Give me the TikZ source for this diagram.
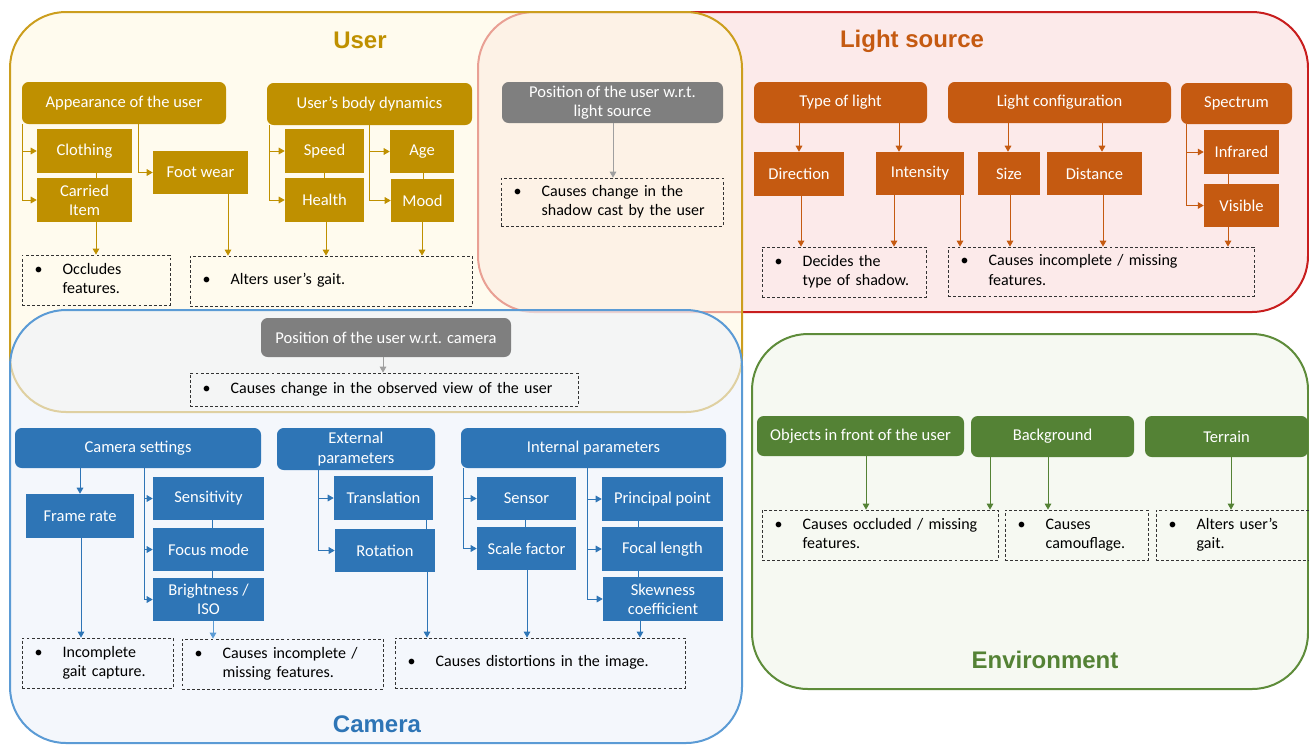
\documentclass[tikz,border=0pt]{standalone}
\usepackage{fontspec}
\setmainfont{Carlito}
\newfontfamily\headfont{Liberation Sans}
\usetikzlibrary{arrows.meta}

\definecolor{ugold}{HTML}{BF9000}
\definecolor{uline}{HTML}{CC9E1E}
\definecolor{ufill}{RGB}{255,248,227}
\definecolor{lorange}{HTML}{C55A11}
\definecolor{lline}{HTML}{C81E1E}
\definecolor{lfill}{RGB}{250,220,220}
\definecolor{cblue}{HTML}{2E75B6}
\definecolor{cline}{HTML}{5B9BD5}
\definecolor{cfill}{RGB}{237,242,250}
\definecolor{egreen}{HTML}{548235}
\definecolor{eline}{HTML}{5E8C3A}
\definecolor{efill}{RGB}{240,245,233}
\definecolor{pgray}{HTML}{7F7F7F}

\newcommand{\bul}[1]{\makebox[21pt][l]{\textbullet}\begin{tabular}[t]{@{}l@{}}#1\end{tabular}}

\begin{document}
\begin{tikzpicture}[x=0.75pt,y=-0.75pt,
    font=\fontsize{12.4}{14.5}\selectfont,
    head/.style={rounded corners=5pt,fill=#1,text=white,align=center,inner sep=1pt},
    item/.style={fill=#1,text=white,align=center,inner sep=1pt},
    wh/.style 2 args={minimum width=#1*0.75pt,minimum height=#2*0.75pt},
    note/.style 2 args={draw=black!80,dash pattern=on 2.2pt off 1.6pt,line width=0.6pt,
      font=\fontsize{12}{14.5}\selectfont,
      minimum height=#2*0.75pt,text width=#1*0.75pt-19pt,inner xsep=9.5pt,align=left},
    arr/.style={draw=#1,line width=0.75pt,-{Triangle[length=4.5pt,width=5pt]}},
    ln/.style={draw=#1,line width=0.75pt},
    area/.style 2 args={rounded corners=42pt,fill=#2,fill opacity=0.6,draw=#1,line width=1.5pt},
    title/.style={font=\headfont\bfseries\fontsize{18}{22}\selectfont,text=#1}]

  \useasboundingbox (0,0) rectangle (1309,744);

  % the four areas
  \path[area={lline}{lfill}] (478,12) rectangle (1308,312);
  \path[area={uline}{ufill}] (10,12) rectangle (742,412);
  \path[area={cline}{cfill}] (10,310) rectangle (742,743);
  \path[area={eline}{efill}] (752,334) rectangle (1308,689);

  \node[title=ugold] (tuser) at (360,40) {User};
  \node[title=lorange] (tlight) at (912,41) {Light source};
  \node[title=cblue] (tcam) at (377,724) {Camera};
  \node[title=egreen] (tenv) at (1045,660) {Environment};

  % user
  \node[head=ugold,wh={204}{42}] (appear) at (124,103) {Appearance of the user};
  \node[head=ugold,wh={205}{42}] (bodydyn) at (369.5,104) {User’s body dynamics};
  \node[item=ugold,wh={95}{44}] (clothing) at (84.5,151) {Clothing};
  \node[item=ugold,wh={95}{44}] (carried) at (84.5,200) {Carried\\Item};
  \node[item=ugold,wh={95}{43}] (footwear) at (200.5,172.5) {Foot wear};
  \node[item=ugold,wh={79}{44}] (speed) at (324.5,151) {Speed};
  \node[item=ugold,wh={79}{44}] (health) at (324.5,200) {Health};
  \node[item=ugold,wh={64}{43}] (age) at (422,151.5) {Age};
  \node[item=ugold,wh={63}{43}] (mood) at (422.5,200.5) {Mood};
  \node[note={148}{50}] (occl) at (96,280) {\bul{Occludes\\features.}};
  \node[note={282}{50}] (gait) at (331,281) {\bul{Alters user’s gait.}};

  \draw[arr=ugold] (appear.south -| 22.5,0) |- (clothing);
  \draw[arr=ugold] (appear.south -| 22.5,0) |- (carried);
  \draw[arr=ugold] (appear.south -| 138,0) |- (footwear);
  \draw[arr=ugold] (bodydyn.south -| 269,0) |- (speed);
  \draw[arr=ugold] (bodydyn.south -| 269,0) |- (health);
  \draw[arr=ugold] (bodydyn.south -| 369,0) |- (age);
  \draw[arr=ugold] (bodydyn.south -| 369,0) |- (mood);
  \draw[ln=ugold] (clothing.south -| 96,0) -- (carried.north -| 96,0);
  \draw[ln=ugold] (speed.south -| 324,0) -- (health.north -| 324,0);
  \draw[ln=ugold] (age.south -| 423,0) -- (mood.north -| 423,0);
  \draw[arr=ugold] (carried.south -| 96,0) -- (occl.north -| 96,0);
  \draw[arr=ugold] (footwear.south -| 228,0) -- (gait.north -| 228,0);
  \draw[arr=ugold] (health.south -| 326,0) -- (gait.north -| 326,0);
  \draw[arr=ugold] (mood.south -| 422,0) -- (gait.north -| 422,0);

  % position of the user
  \node[head=pgray,wh={221}{41}] (poslight) at (612.5,102.5) {Position of the user w.r.t.\\light source};
  \node[note={222}{48}] (shadow) at (612,202) {\bul{Causes change in the\\shadow cast by the user}};
  \node[head=pgray,wh={250}{39}] (poscam) at (386,337.5) {Position of the user w.r.t. camera};
  \node[note={388}{33}] (view) at (384,389.5) {\bul{Causes change in the observed view of the user}};
  \draw[arr=gray!75] (poslight.south -| 613,0) -- (shadow.north -| 613,0);
  \draw[arr=gray!75] (poscam.south -| 383,0) -- (view.north -| 383,0);

  % light source
  \node[head=lorange,wh={173}{41}] (typelight) at (840.5,102.5) {Type of light};
  \node[head=lorange,wh={223}{41}] (lightconf) at (1059.5,102.5) {Light configuration};
  \node[head=lorange,wh={111}{41}] (spectrum) at (1236.5,103.5) {Spectrum};
  \node[item=lorange,wh={90}{44}] (direction) at (799,174) {Direction};
  \node[item=lorange,wh={88}{43}] (intensity) at (920,173.5) {Intensity};
  \node[item=lorange,wh={62}{43}] (size) at (1009,173.5) {Size};
  \node[item=lorange,wh={95}{43}] (distance) at (1094.5,173.5) {Distance};
  \node[item=lorange,wh={75}{44}] (infrared) at (1241.5,152) {Infrared};
  \node[item=lorange,wh={75}{43}] (visible) at (1241.5,205.5) {Visible};
  \node[note={164}{50}] (decides) at (844,272) {\bul{Decides the\\type of shadow.}};
  \node[note={306}{49}] (lmiss) at (1101,271.5) {\bul{Causes incomplete / missing\\features.}};

  \draw[arr=lorange] (typelight.south -| direction) -- (direction);
  \draw[arr=lorange] (typelight.south -| 899,0) -- (intensity.north -| 899,0);
  \draw[arr=lorange] (lightconf.south -| 1008,0) -- (size.north -| 1008,0);
  \draw[arr=lorange] (lightconf.south -| 1102,0) -- (distance.north -| 1102,0);
  \draw[arr=lorange] (spectrum.south -| 1186,0) |- (infrared);
  \draw[arr=lorange] (spectrum.south -| 1186,0) |- (visible);
  \draw[ln=lorange] (infrared.south -| 1228,0) -- (visible.north -| 1228,0);
  \draw[arr=lorange] (direction.south -| 801,0) -- (decides.north -| 801,0);
  \draw[arr=lorange] (intensity.south -| 894,0) -- (decides.north -| 894,0);
  \draw[arr=lorange] (intensity.south -| 960,0) -- (lmiss.north -| 960,0);
  \draw[arr=lorange] (size.south -| 1010,0) -- (lmiss.north -| 1010,0);
  \draw[arr=lorange] (distance.south -| 1103,0) -- (lmiss.north -| 1103,0);
  \draw[arr=lorange] (visible.south -| 1228,0) -- (lmiss.north -| 1228,0);

  % camera
  \node[head=cblue,wh={246}{40}] (camset) at (138,448) {Camera settings};
  \node[head=cblue,wh={158}{42}] (extpar) at (356,449) {External\\parameters};
  \node[head=cblue,wh={265}{40}] (intpar) at (593.5,448) {Internal parameters};
  \node[item=cblue,wh={108}{44}] (framerate) at (80,516) {Frame rate};
  \node[item=cblue,wh={111}{43}] (sensitivity) at (208.5,498.5) {Sensitivity};
  \node[item=cblue,wh={111}{43}] (focus) at (208.5,549.5) {Focus mode};
  \node[item=cblue,wh={111}{43}] (bright) at (208.5,599.5) {Brightness /\\ISO};
  \node[item=cblue,wh={99}{44}] (translation) at (383.5,498) {Translation};
  \node[item=cblue,wh={100}{43}] (rotation) at (385,550.5) {Rotation};
  \node[item=cblue,wh={99}{43}] (sensor) at (526.5,498.5) {Sensor};
  \node[item=cblue,wh={99}{43}] (scale) at (526.5,548.5) {Scale factor};
  \node[item=cblue,wh={121}{44}] (principal) at (662.5,499) {Principal point};
  \node[item=cblue,wh={121}{44}] (focal) at (662.5,549) {Focal length};
  \node[item=cblue,wh={120}{44}] (skew) at (663,599) {Skewness\\coefficient};
  \node[note={151}{50}] (gaitcap) at (97.5,663) {\bul{Incomplete\\gait capture.}};
  \node[note={201}{50}] (cmiss) at (282.5,664) {\bul{Causes incomplete /\\missing features.}};
  \node[note={290}{50}] (distort) at (540,663) {\bul{Causes distortions in the image.}};

  \draw[arr=cblue] (camset.south -| framerate) -- (framerate);
  \draw[arr=cblue] (camset.south -| 144,0) |- (sensitivity);
  \draw[arr=cblue] (camset.south -| 144,0) |- (focus);
  \draw[arr=cblue] (camset.south -| 144,0) |- (bright);
  \draw[arr=cblue] (extpar.south -| 318,0) |- (translation);
  \draw[arr=cblue] (extpar.south -| 318,0) |- (rotation);
  \draw[arr=cblue] (intpar.south -| 463,0) |- (sensor);
  \draw[arr=cblue] (intpar.south -| 463,0) |- (scale);
  \draw[arr=cblue] (intpar.south -| 587,0) |- (principal);
  \draw[arr=cblue] (intpar.south -| 587,0) |- (focal);
  \draw[arr=cblue] (intpar.south -| 587,0) |- (skew);
  \draw[ln=cblue] (sensitivity.south -| 212,0) -- (focus.north -| 212,0);
  \draw[ln=cblue] (focus.south -| 212,0) -- (bright.north -| 212,0);
  \draw[ln=cblue] (translation.south -| 426,0) -- (rotation.north -| 426,0);
  \draw[ln=cblue] (sensor.south -| 525,0) -- (scale.north -| 525,0);
  \draw[ln=cblue] (principal.south -| 638,0) -- (focal.north -| 638,0);
  \draw[ln=cblue] (focal.south -| 638,0) -- (skew.north -| 638,0);
  \draw[arr=cblue] (framerate.south -| 81,0) -- (gaitcap.north -| 81,0);
  \draw[arr=cline] (bright.south -| 213,0) -- (cmiss.north -| 213,0);
  \draw[arr=cblue] (rotation.south -| 427,0) -- (distort.north -| 427,0);
  \draw[arr=cblue] (scale.south -| 527,0) -- (distort.north -| 527,0);
  \draw[arr=cblue] (skew.south -| 640,0) -- (distort.north -| 640,0);

  % environment
  \node[head=egreen,wh={207}{40}] (objects) at (860.5,436) {Objects in front of the user};
  \node[head=egreen,wh={163}{41}] (backgr) at (1052.5,436.5) {Background};
  \node[head=egreen,wh={163}{41}] (terrain) at (1226.5,436.5) {Terrain};
  \node[note={236}{50}] (omiss) at (880,535) {\bul{Causes occluded / missing\\features.}};
  \node[note={143}{50}] (camo) at (1076.5,535) {\bul{Causes\\camouflage.}};
  \node[note={153}{50}] (egait) at (1232.5,535) {\bul{Alters user’s\\gait.}};

  \draw[arr=egreen] (objects.south -| 866,0) -- (omiss.north -| 866,0);
  \draw[arr=egreen] (backgr.south -| 990,0) -- (omiss.north -| 990,0);
  \draw[arr=egreen] (backgr.south -| 1048,0) -- (camo.north -| 1048,0);
  \draw[arr=egreen] (terrain.south -| 1231,0) -- (egait.north -| 1231,0);

\end{tikzpicture}
\end{document}
